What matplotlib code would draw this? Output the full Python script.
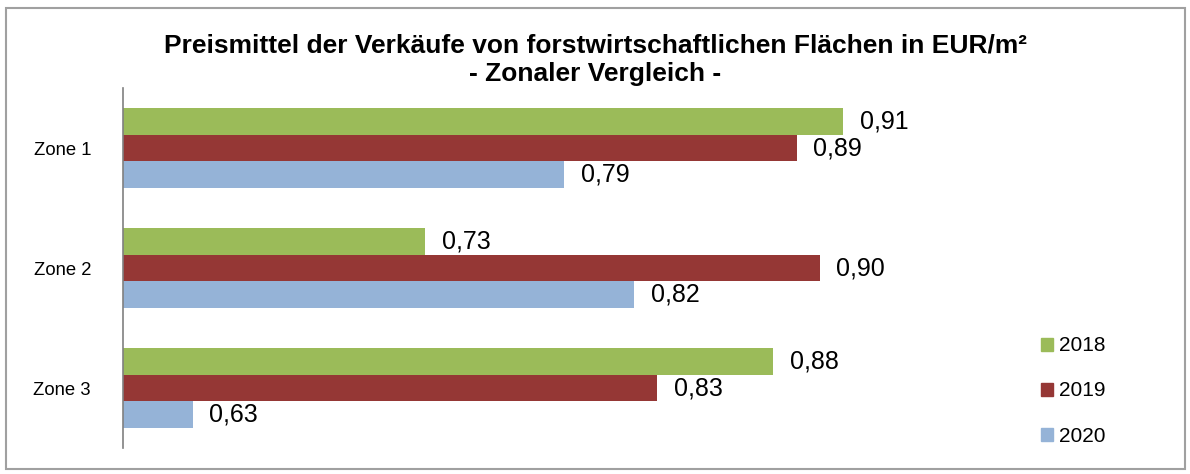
import matplotlib
matplotlib.use('Agg')
import matplotlib.pyplot as plt
import numpy as np
from matplotlib.patches import Rectangle, Patch

plt.rcParams['font.family'] = ['Liberation Sans', 'DejaVu Sans']

zones = ['Zone 1', 'Zone 2', 'Zone 3']
years = ['2018', '2019', '2020']
v2018 = [0.91, 0.73, 0.88]
v2019 = [0.89, 0.90, 0.83]
v2020 = [0.79, 0.82, 0.63]
colors = ['#9BBB59', '#953735', '#95B3D7']

fig = plt.figure(figsize=(11.9, 4.74), dpi=100)
ax = fig.add_axes([123 / 1190, 26 / 474, (1052 - 123) / 1190, 360 / 474])

bh = 0.222
y = np.arange(1, len(zones) + 1)
for i, (vals, col) in enumerate(zip([v2018, v2019, v2020], colors)):
    pos = y + (i - 1) * bh
    ax.barh(pos, np.array(vals) - 0.6, left=0.6, height=bh, color=col, label=years[i])
    for p, v in zip(pos, vals):
        ax.text(v + 0.0072, p, f'{v:.2f}'.replace('.', ','), va='center', ha='left',
                fontsize=18, color='black')

ax.set_xlim(0.6, 1.0)
ax.set_ylim(3.5, 0.5)
ax.set_yticks(y)
ax.set_yticklabels(zones, fontsize=13.3)
ax.tick_params(axis='y', length=0, pad=23)
ax.set_xticks([])
for s in ['top', 'right', 'bottom']:
    ax.spines[s].set_visible(False)
ax.spines['left'].set_color('#808080')
ax.spines['left'].set_linewidth(1.2)

fig.text(0.5, 1 - 45 / 474, 'Preismittel der Verkäufe von forstwirtschaftlichen Flächen in EUR/m²',
         ha='center', va='center', fontsize=19, fontweight='bold')
fig.text(0.5, 1 - 74 / 474, '- Zonaler Vergleich -',
         ha='center', va='center', fontsize=19, fontweight='bold')

handles = [Patch(color=c) for c in colors]
fig.legend(handles, years, loc='center left', bbox_to_anchor=(1022 / 1190, 1 - 391 / 474),
           frameon=False, fontsize=15, handlelength=0.6, handleheight=0.6,
           handletextpad=0.3, labelspacing=1.25)

fig.patches.append(Rectangle((6 / 1190, 5 / 474), 1179 / 1190, 461 / 474,
                             transform=fig.transFigure, fill=False,
                             edgecolor='#a0a0a0', linewidth=1.5))

fig.savefig('out.png', dpi=100)
